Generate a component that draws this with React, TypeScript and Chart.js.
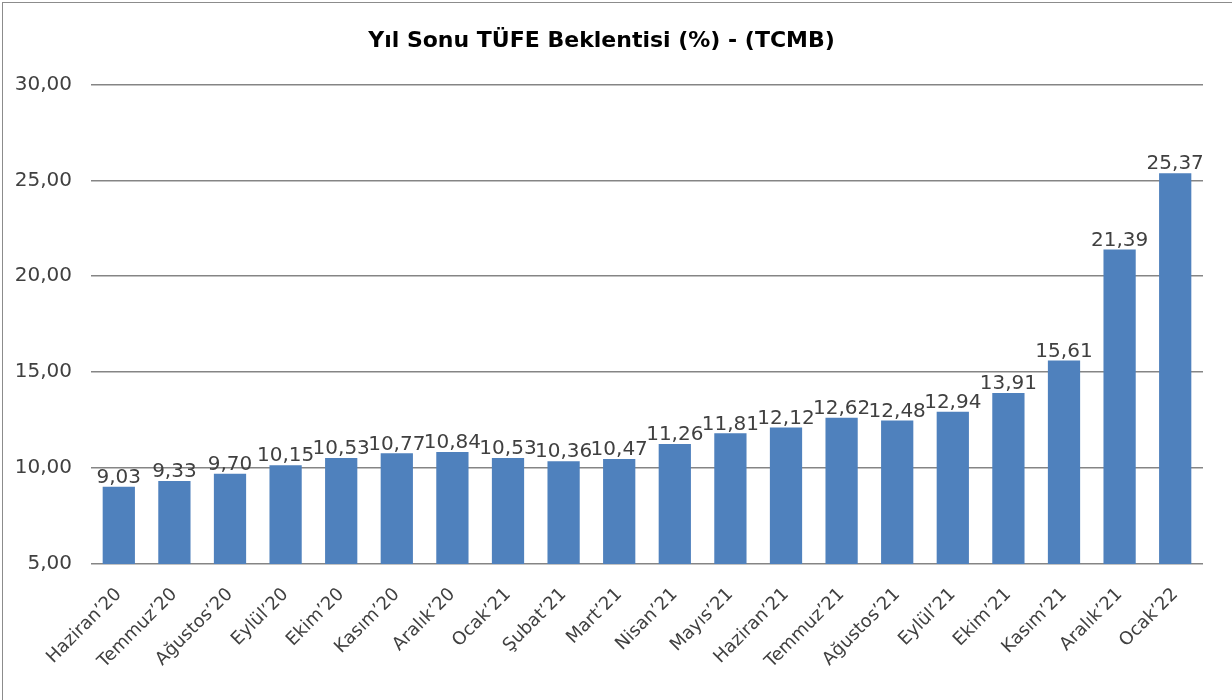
import React, { useEffect, useRef } from "react";
import { Chart, registerables } from "chart.js";

Chart.register(...registerables);

const categories = [
  "Haziran’20", "Temmuz’20", "Ağustos’20", "Eylül’20", "Ekim’20", "Kasım’20", "Aralık’20",
  "Ocak’21", "Şubat’21", "Mart’21", "Nisan’21", "Mayıs’21", "Haziran’21", "Temmuz’21",
  "Ağustos’21", "Eylül’21", "Ekim’21", "Kasım’21", "Aralık’21", "Ocak’22",
];
const values = [
  9.03, 9.33, 9.7, 10.15, 10.53, 10.77, 10.84, 10.53, 10.36, 10.47,
  11.26, 11.81, 12.12, 12.62, 12.48, 12.94, 13.91, 15.61, 21.39, 25.37,
];
const yMin = 5;
const yMax = 30;
const yStep = 5;
const title = "Yıl Sonu TÜFE Beklentisi (%) - (TCMB)";

const fmt = (v: number) => v.toFixed(2).replace(".", ",");
const FONT = "'DejaVu Sans', sans-serif";

const dataLabels = {
  id: "dataLabels",
  afterDatasetsDraw(chart: any) {
    const ctx = chart.ctx;
    const meta = chart.getDatasetMeta(0);
    ctx.save();
    ctx.font = `20px ${FONT}`;
    ctx.fillStyle = "#404040";
    ctx.textAlign = "center";
    ctx.textBaseline = "bottom";
    meta.data.forEach((el: any, i: number) => {
      ctx.fillText(fmt(values[i]), el.x, el.y + 1);
    });
    ctx.restore();
  },
};

export default function App() {
  const ref = useRef<HTMLCanvasElement>(null);
  useEffect(() => {
    if (!ref.current) return;
    const chart = new Chart(ref.current, {
      type: "bar",
      data: {
        labels: categories,
        datasets: [
          {
            data: values,
            backgroundColor: "#4F81BD",
            borderWidth: 0,
            categoryPercentage: 1,
            barPercentage: 0.58,
          },
        ],
      },
      options: {
        animation: false,
        responsive: false,
        maintainAspectRatio: false,
        layout: { padding: { left: 0, right: 29, top: 0, bottom: 0 } },
        plugins: {
          legend: { display: false },
          tooltip: { enabled: false },
          title: {
            display: true,
            text: title,
            color: "#000000",
            font: { family: FONT, size: 22, weight: "bold", lineHeight: 1.2 },
            padding: { top: 28, bottom: 30 },
          },
        },
        scales: {
          x: {
            grid: { display: false, drawTicks: false },
            border: { display: false },
            ticks: {
              color: "#404040",
              font: { family: FONT, size: 18 },
              minRotation: 45,
              maxRotation: 45,
              autoSkip: false,
              padding: 20,
            },
            afterFit: (s: any) => {
              s.height = 136;
            },
          },
          y: {
            min: yMin,
            max: yMax,
            grid: { color: "#858585", lineWidth: 1.5, drawTicks: false },
            border: { display: false },
            ticks: {
              stepSize: yStep,
              color: "#404040",
              font: { family: FONT, size: 20 },
              padding: 19,
              callback: (v: any) => fmt(Number(v)),
            },
            afterFit: (s: any) => {
              s.width = 91;
            },
          },
        },
      },
      plugins: [dataLabels],
    });
    return () => chart.destroy();
  }, []);

  return (
    <div style={{ position: "fixed", left: 0, top: 0, width: 1232, height: 700, background: "#fff" }}>
      <canvas ref={ref} width={1232} height={700} style={{ position: "absolute", left: 0, top: 0 }} />
      <div
        style={{
          position: "absolute",
          left: 2,
          top: 2,
          width: 1230,
          height: 698,
          borderLeft: "1.5px solid #8c8c8c",
          borderTop: "1.5px solid #8c8c8c",
          boxSizing: "border-box",
          pointerEvents: "none",
        }}
      />
    </div>
  );
}
